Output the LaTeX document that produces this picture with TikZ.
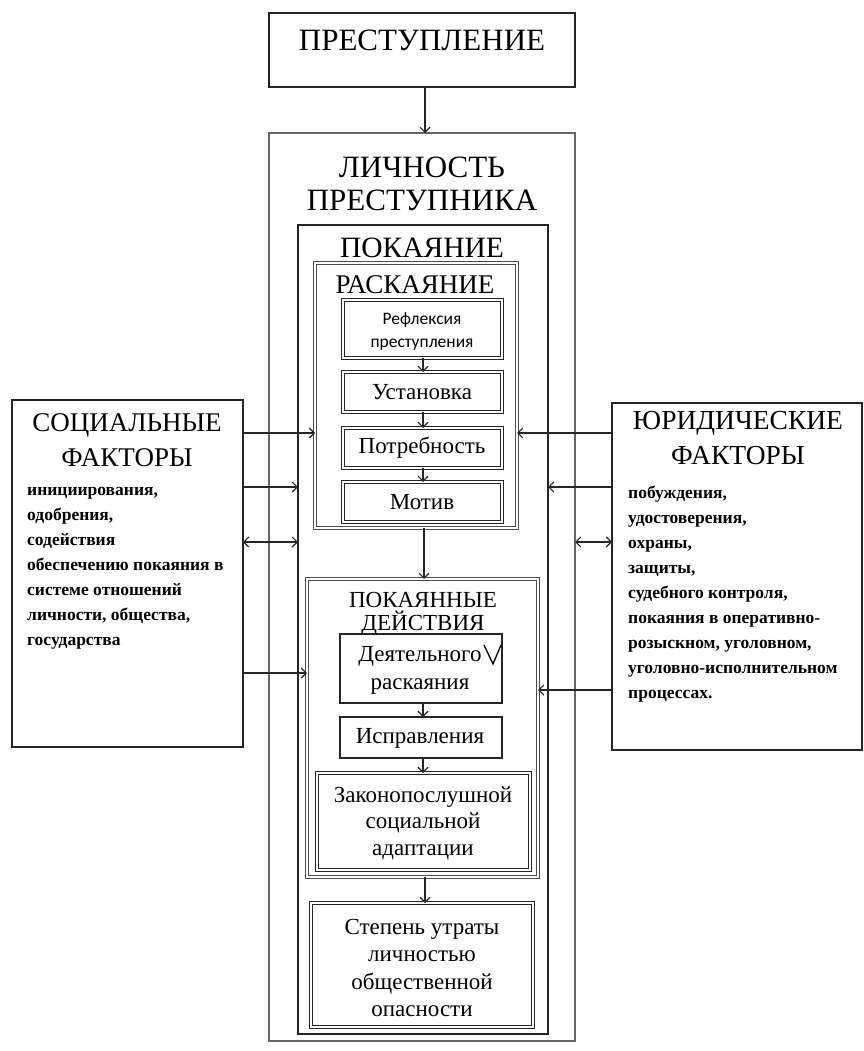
\documentclass[tikz,border=0pt]{standalone}
\usepackage{fontspec}
\setmainfont{Liberation Serif}
\newfontfamily\sansf{Carlito}
\usetikzlibrary{arrows.meta}
\begin{document}
\begin{tikzpicture}[x=1pt,y=-1pt,
  box/.style={draw=black!85, line width=1.5pt, inner sep=0pt, outer sep=0pt, anchor=north west},
  dbox/.style={box, line width=1pt, double=white, double distance=1.3pt},
  lbl/.style={inner sep=0pt, align=center, text=black},
  arr/.style={draw=black!85, line width=1.1pt, -{Straight Barb[length=5pt,width=10pt]}},
  darr/.style={draw=black!85, line width=1.1pt, {Straight Barb[length=5pt,width=10pt]}-{Straight Barb[length=5pt,width=10pt]}},
  body/.style={inner sep=0pt, align=left, anchor=north west, font=\bfseries\fontsize{17.5}{25}\selectfont},
  small/.style={lbl, font=\fontsize{23}{26}\selectfont}
]
\useasboundingbox (0,0) rectangle (863,1051);
\fill[white] (0,0) rectangle (863,1051);

% boxes
\node[box, minimum width=306pt, minimum height=74pt] (crime) at (269,13) {};
\node[box, draw=black!60, minimum width=306pt, minimum height=908pt] (pers) at (269,133) {};
\node[box, minimum width=250pt, minimum height=809pt] (pok) at (298,225) {};
\node[dbox, draw=black!70, minimum width=202pt, minimum height=265pt] (rask) at (315,263) {};
\node[dbox, minimum width=159pt, minimum height=58pt] (refl) at (343,300) {};
\node[dbox, minimum width=159pt, minimum height=40pt] (ust) at (343,372) {};
\node[dbox, minimum width=159pt, minimum height=40pt] (potr) at (343,428) {};
\node[dbox, minimum width=159pt, minimum height=40pt] (motiv) at (343,482) {};
\node[dbox, draw=black!70, minimum width=231pt, minimum height=298pt] (pd) at (307,579) {};
\node[box, minimum width=162pt, minimum height=69pt] (deyat) at (340,634) {};
\node[box, minimum width=162pt, minimum height=41pt] (ispr) at (340,717) {};
\node[dbox, minimum width=213pt, minimum height=97pt] (zakon) at (317,773) {};
\node[dbox, minimum width=222pt, minimum height=124pt] (step) at (311,903) {};
\node[box, minimum width=231pt, minimum height=347pt] (soc) at (12,400) {};
\node[box, minimum width=250pt, minimum height=347pt] (jur) at (612,403) {};

% titles
\node[lbl, font=\fontsize{31}{33}\selectfont] (tcrime) at (422,40) {ПРЕСТУПЛЕНИЕ};
\node[lbl, font=\fontsize{31}{33}\selectfont] (tpers) at (422,184) {ЛИЧНОСТЬ\\ПРЕСТУПНИКА};
\node[lbl, font=\fontsize{29.5}{30}\selectfont] (tpok) at (422,248) {ПОКАЯНИЕ};
\node[lbl, font=\fontsize{27}{28}\selectfont] (trask) at (415,285) {РАСКАЯНИЕ};
\node[lbl, font=\sansf\fontsize{17.5}{23}\selectfont] (trefl) at (422,331) {Рефлексия\\преступления};
\node[small] (tust) at (422,392) {Установка};
\node[small] (tpotr) at (422,448) {Потребность};
\node[small] (tmotiv) at (422,502) {Мотив};
\node[lbl, font=\fontsize{23}{23}\selectfont] (tpd) at (423,614) {ПОКАЯННЫЕ\\ДЕЙСТВИЯ};
\node[lbl, font=\fontsize{23}{28}\selectfont] (tdeyat) at (420,670) {Деятельного\\раскаяния};
\node[small] (tispr) at (420,738) {Исправления};
\node[lbl, font=\fontsize{23}{26.5}\selectfont] (tzakon) at (423,823) {Законопослушной\\социальной\\адаптации};
\node[lbl, font=\fontsize{23}{27.5}\selectfont] (tstep) at (422,968) {Степень утраты\\личностью\\общественной\\опасности};
\node[lbl, font=\fontsize{27}{35}\selectfont] (tsoc) at (127,440) {СОЦИАЛЬНЫЕ\\ФАКТОРЫ};
\node[lbl, font=\fontsize{27.5}{35}\selectfont] (tjur) at (738,438) {ЮРИДИЧЕСКИЕ\\ФАКТОРЫ};

\node[body] (bsoc) at (27,487) {инициирования,\\одобрения,\\содействия\\обеспечению покаяния в\\системе  отношений\\личности, общества,\\государства};
\node[body] (bjur) at (628,486) {побуждения,\\удостоверения,\\охраны,\\защиты,\\судебного контроля,\\покаяния в оперативно-\\розыскном, уголовном,\\уголовно-исполнительном\\процессах.};

% vertical arrows
\draw[arr] (crime.south -| 425,0) -- (pers.north -| 425,0);
\draw[arr] (refl.south -| 423,0) -- (ust.north -| 423,0);
\draw[arr] (ust.south -| 423,0) -- (potr.north -| 423,0);
\draw[arr] (potr.south -| 423,0) -- (motiv.north -| 423,0);
\draw[arr] (rask.south -| 424,0) -- (pd.north -| 424,0);
\draw[arr] (deyat.south -| 423,0) -- (ispr.north -| 423,0);
\draw[arr] (ispr.south -| 423,0) -- (zakon.north -| 423,0);
\draw[arr] (pd.south -| 425,0) -- (step.north -| 425,0);

% left arrows
\draw[arr] (soc.east |- 0,433) -- (rask.west |- 0,433);
\draw[arr] (soc.east |- 0,487) -- (pok.west |- 0,487);
\draw[darr] (soc.east |- 0,542) -- (pok.west |- 0,542);
\draw[arr] (soc.east |- 0,673) -- (pd.west |- 0,673);

% right arrows
\draw[arr] (jur.west |- 0,433) -- (rask.east |- 0,433);
\draw[arr] (jur.west |- 0,487) -- (pok.east |- 0,487);
\draw[darr] (pers.east |- 0,542) -- (jur.west |- 0,542);
\draw[arr] (jur.west |- 0,690) -- (pd.east |- 0,690);

% stray mark
\draw[line width=1.3pt, black] (484,645) -- (493,664) -- (501,645);
\end{tikzpicture}
\end{document}
